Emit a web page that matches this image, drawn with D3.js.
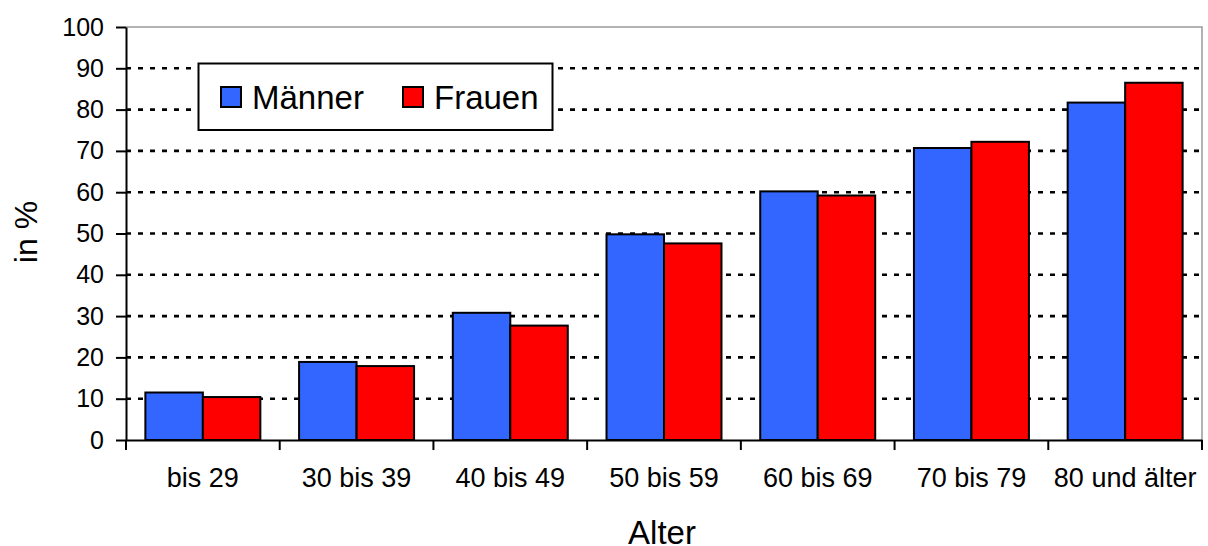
<!DOCTYPE html>
<html><head><meta charset="utf-8">
<script src="https://cdn.jsdelivr.net/npm/d3@7"></script>
<style>body{margin:0;background:#fff}svg{display:block}text{font-family:"Liberation Sans",Arial,sans-serif;fill:#000}</style>
</head><body><svg id="c" width="1208" height="546"></svg>
<script>
const categories = ["bis 29","30 bis 39","40 bis 49","50 bis 59","60 bis 69","70 bis 79","80 und älter"];
const maenner = [11.5, 18.9, 30.8, 49.8, 60.2, 70.7, 81.7];
const frauen  = [10.4, 17.9, 27.7, 47.6, 59.2, 72.2, 86.5];
const seriesNames = ["Männer","Frauen"];
const seriesColors = ["#3366FF","#FF0000"];
const yTicks = [0,10,20,30,40,50,60,70,80,90,100];
const xTitle = "Alter", yTitle = "in %";

const svg = d3.select("#c");
const L=126, R=1202, T=27, B=440;
const x = d3.scaleBand().domain(categories).range([L,R]).padding(0);
const y = d3.scaleLinear().domain([0,100]).range([B,T]);
const x1 = d3.scaleBand().domain(seriesNames).range([x.bandwidth()*0.126, x.bandwidth()*0.874]).padding(0);

// gridlines
svg.append("g").selectAll("line").data(yTicks.filter(d=>d>0&&d<100)).join("line")
  .attr("x1",L).attr("x2",R).attr("y1",d=>y(d)).attr("y2",d=>y(d))
  .attr("stroke","#000").attr("stroke-width",2.6).attr("stroke-dasharray","5,7");
// plot border top/right
svg.append("path").attr("d",`M${L},${y(100)}H${R}V${B}`).attr("fill","none").attr("stroke","#999").attr("stroke-width",1.5);

// bars
const data = categories.map((c,i)=>({c, vals:[maenner[i],frauen[i]]}));
const g = svg.append("g").selectAll("g").data(data).join("g").attr("transform",d=>`translate(${x(d.c)},0)`);
g.selectAll("rect").data(d=>d.vals.map((v,j)=>({v,s:seriesNames[j],col:seriesColors[j]}))).join("rect")
  .attr("x",d=>x1(d.s)).attr("width",x1.bandwidth()).attr("y",d=>y(d.v)).attr("height",d=>B-y(d.v))
  .attr("fill",d=>d.col).attr("stroke","#000").attr("stroke-width",2);

// y axis
const ya = svg.append("g").attr("transform",`translate(${L},0)`).call(d3.axisLeft(y).tickValues(yTicks).tickSize(10).tickPadding(12).tickSizeOuter(0));
ya.select(".domain").attr("stroke","#000").attr("stroke-width",2);
ya.selectAll(".tick line").attr("stroke","#000").attr("stroke-width",2);
ya.selectAll("text").attr("font-size",25).attr("font-family","Liberation Sans, Arial, sans-serif");

// x axis
const xa = svg.append("g").attr("transform",`translate(0,${B})`).call(d3.axisBottom(x).tickSize(0).tickPadding(28));
xa.select(".domain").attr("stroke","#000").attr("stroke-width",2);
xa.selectAll("text").attr("font-size",27).attr("font-family","Liberation Sans, Arial, sans-serif");
svg.append("g").selectAll("line").data(d3.range(categories.length+1)).join("line")
  .attr("x1",i=>L+i*x.bandwidth()).attr("x2",i=>L+i*x.bandwidth()).attr("y1",B).attr("y2",B+10)
  .attr("stroke","#000").attr("stroke-width",2);

// titles
svg.append("text").attr("x",662).attr("y",544).attr("text-anchor","middle").attr("font-size",33).text(xTitle);
svg.append("text").attr("transform",`translate(37,232) rotate(-90)`).attr("text-anchor","middle").attr("font-size",32).text(yTitle);

// legend
const lg = svg.append("g");
lg.append("rect").attr("x",198.5).attr("y",63.5).attr("width",354).attr("height",66.5).attr("fill","#fff").attr("stroke","#000").attr("stroke-width",2);
const items=[{n:seriesNames[0],c:seriesColors[0],x:221},{n:seriesNames[1],c:seriesColors[1],x:403}];
items.forEach(it=>{
  lg.append("rect").attr("x",it.x).attr("y",87).attr("width",20).attr("height",20).attr("fill",it.c).attr("stroke","#000").attr("stroke-width",2);
  lg.append("text").attr("x",it.x+31).attr("y",108.5).attr("font-size",33).text(it.n);
});
</script></body></html>
